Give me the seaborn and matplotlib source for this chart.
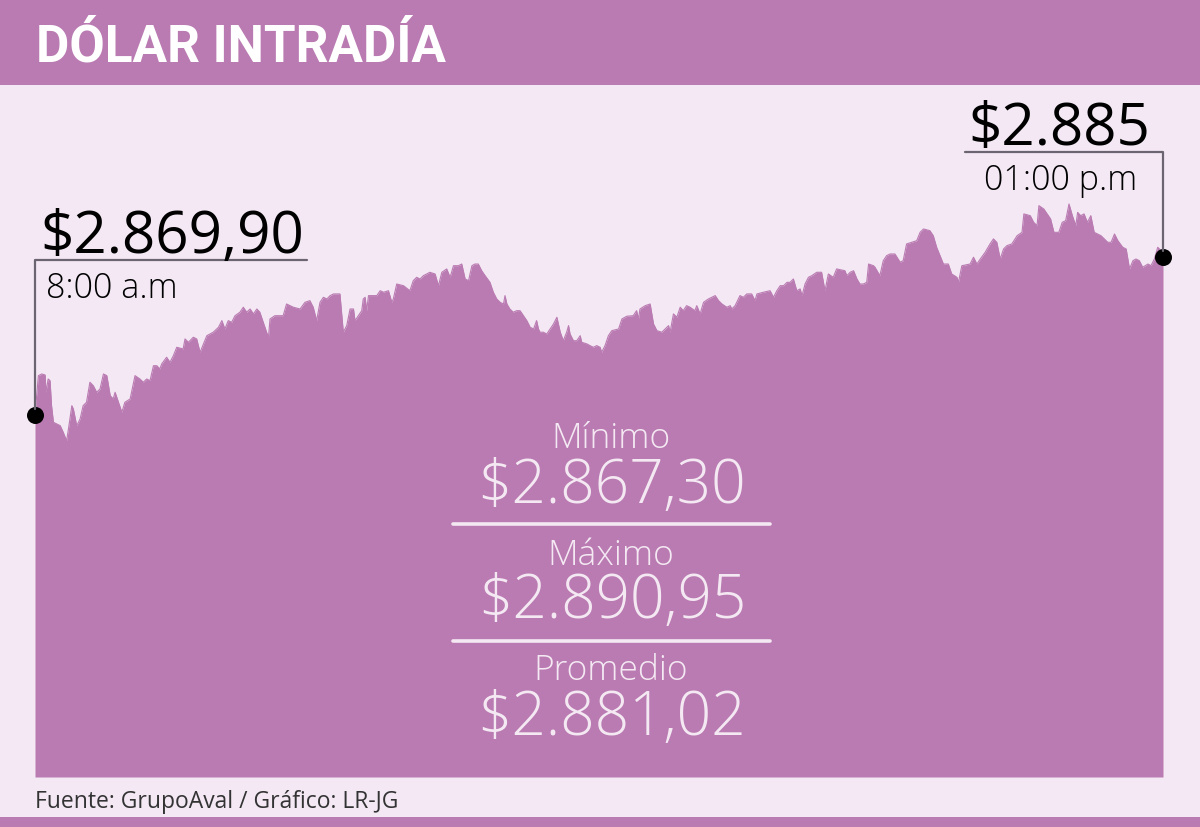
import matplotlib
matplotlib.use("Agg")
import matplotlib.pyplot as plt
from matplotlib.lines import Line2D
from matplotlib.patches import Rectangle
import seaborn as sns
import pandas as pd

# ---------------- data ----------------
minutes = [0.0, 0.9, 1.8, 2.7, 2.9, 3.5, 4.0, 4.4, 4.9, 5.8, 6.7, 7.5, 8.4, 8.9, 9.8, 10.2, 11.1, 12.0,
           12.8, 13.7, 14.6, 15.5, 16.4, 17.3, 18.2, 19.1, 20.0, 20.8, 21.3, 22.2, 23.1, 23.9, 25.3,
           26.6, 27.9, 28.8, 29.7, 30.6, 31.5, 32.4, 33.2, 33.7, 35.0, 35.9, 36.8, 37.7, 39.4, 39.9,
           40.8, 42.1, 43.0, 43.9, 44.8, 45.7, 47.4, 48.8, 49.7, 50.5, 51.4, 52.3, 53.2, 54.5, 55.4,
           56.3, 57.2, 58.1, 59.0, 59.8, 60.7, 61.6, 62.1, 62.5, 63.8, 66.0, 66.9, 68.7, 70.5, 71.8,
           73.1, 74.0, 74.9, 75.8, 76.7, 77.6, 78.5, 79.4, 81.1, 81.6, 82.0, 82.9, 83.8, 84.7, 85.1,
           86.0, 86.9, 87.3, 87.8, 88.2, 88.7, 90.0, 90.9, 91.8, 92.7, 94.0, 94.9, 95.3, 96.2, 98.0,
           99.7, 100.6, 101.5, 102.4, 103.3, 104.2, 105.0, 106.4, 107.3, 108.2, 109.5, 110.4, 111.3,
           112.6, 113.5, 114.4, 115.3, 116.2, 117.0, 117.9, 118.8, 119.7, 121.0, 121.9, 122.8, 123.7,
           124.6, 125.0, 125.5, 126.3, 127.2, 128.1, 129.0, 129.9, 130.8, 131.7, 132.6, 133.4, 133.9,
           134.3, 135.2, 136.1, 137.0, 137.9, 138.8, 139.7, 140.5, 141.4, 141.9, 142.3, 143.2, 144.1,
           145.0, 145.4, 146.8, 147.6, 148.5, 149.4, 150.3, 150.7, 151.6, 152.5, 153.4, 155.2, 156.1,
           157.4, 159.1, 160.0, 160.5, 160.9, 162.3, 163.6, 164.5, 165.4, 166.7, 167.6, 168.5, 168.9,
           169.8, 170.7, 171.6, 172.4, 173.3, 174.2, 175.5, 176.0, 176.9, 177.8, 179.1, 180.9, 181.8,
           182.7, 184.0, 184.9, 185.3, 186.2, 187.5, 188.4, 189.3, 190.6, 191.5, 192.0, 193.7, 195.5,
           196.4, 197.3, 198.2, 199.1, 200.0, 200.8, 201.7, 202.6, 203.5, 204.0, 204.8, 205.7, 206.6,
           207.9, 209.2, 210.1, 211.0, 212.3, 213.2, 215.4, 215.9, 216.8, 217.7, 218.6, 219.4, 220.3,
           221.2, 221.7, 223.0, 223.4, 224.7, 225.6, 226.5, 227.4, 228.7, 230.1, 230.9, 231.8, 233.2,
           234.5, 235.4, 236.3, 238.0, 238.9, 239.8, 241.6, 242.9, 243.8, 245.2, 245.6, 246.5, 248.7,
           249.6, 250.5, 251.4, 252.7, 254.0, 254.9, 255.8, 256.7, 257.6, 258.5, 259.8, 261.2, 262.5,
           263.0, 264.7, 265.6, 266.5, 267.0, 268.3, 269.2, 270.1, 271.0, 272.3, 273.2, 274.1, 275.0,
           275.9, 276.8, 277.3, 278.1, 279.0, 279.9, 280.8, 281.7, 283.5, 285.3, 286.2, 287.1, 288.0,
           289.3, 290.2, 291.1, 292.0, 292.8, 293.7, 294.6, 296.0, 296.8, 297.7, 298.6, 299.5, 300.0]

prices = [2869.90, 2873.66, 2873.82, 2873.72, 2872.07, 2873.34, 2873.18, 2870.79, 2869.20, 2869.04,
          2868.88, 2868.25, 2867.44, 2868.56, 2870.79, 2870.47, 2868.88, 2869.52, 2870.79, 2871.11,
          2873.03, 2872.70, 2872.07, 2872.39, 2873.82, 2873.66, 2871.75, 2871.43, 2872.07, 2871.11,
          2870.16, 2871.11, 2871.43, 2873.66, 2873.34, 2873.03, 2873.34, 2873.18, 2874.61, 2874.61,
          2874.30, 2874.78, 2875.42, 2874.94, 2875.57, 2876.37, 2876.21, 2877.17, 2876.85, 2877.33,
          2877.17, 2875.89, 2876.69, 2877.48, 2877.81, 2878.28, 2878.92, 2878.12, 2878.92, 2878.76,
          2879.39, 2879.72, 2880.20, 2879.72, 2880.03, 2879.56, 2880.03, 2879.72, 2878.76, 2877.81,
          2877.33, 2879.08, 2879.39, 2879.39, 2880.51, 2880.20, 2880.03, 2880.67, 2880.83, 2880.20,
          2878.92, 2880.67, 2881.15, 2880.99, 2881.31, 2881.47, 2881.47, 2879.39, 2877.81, 2878.44,
          2880.03, 2880.03, 2878.92, 2879.39, 2879.87, 2880.99, 2881.15, 2879.87, 2881.31, 2881.31,
          2881.31, 2881.78, 2881.63, 2881.78, 2880.67, 2880.99, 2882.42, 2882.26, 2881.78, 2882.74,
          2883.06, 2882.90, 2883.22, 2883.38, 2883.54, 2883.38, 2882.26, 2883.54, 2883.86, 2883.06,
          2884.17, 2884.17, 2884.33, 2882.90, 2882.74, 2884.17, 2884.33, 2884.33, 2883.69, 2883.22,
          2882.58, 2881.63, 2880.99, 2880.67, 2880.51, 2881.31, 2880.51, 2880.03, 2879.72, 2879.87,
          2879.87, 2879.39, 2878.92, 2878.28, 2878.12, 2878.92, 2878.12, 2877.81, 2877.81, 2877.64,
          2878.12, 2878.60, 2879.24, 2877.81, 2877.00, 2877.81, 2878.44, 2877.64, 2877.00, 2877.00,
          2877.48, 2876.85, 2876.69, 2876.53, 2876.37, 2876.53, 2876.37, 2875.89, 2876.53, 2877.48,
          2877.96, 2878.12, 2879.08, 2879.34, 2879.39, 2879.87, 2879.08, 2880.03, 2880.35, 2880.51,
          2878.60, 2877.96, 2877.81, 2878.12, 2878.44, 2877.81, 2879.56, 2879.24, 2880.20, 2879.87,
          2880.35, 2880.20, 2879.87, 2880.35, 2879.56, 2880.67, 2880.99, 2881.31, 2880.83, 2880.51,
          2880.20, 2880.35, 2880.03, 2880.35, 2881.31, 2881.15, 2881.47, 2881.47, 2880.83, 2881.47,
          2881.63, 2881.78, 2881.15, 2881.78, 2882.26, 2882.26, 2882.58, 2882.58, 2882.90, 2881.78,
          2881.95, 2881.31, 2882.42, 2883.06, 2883.22, 2883.54, 2883.54, 2881.78, 2883.38, 2883.06,
          2883.86, 2883.69, 2883.22, 2883.54, 2883.69, 2882.90, 2882.42, 2882.42, 2882.58, 2884.33,
          2884.17, 2884.02, 2883.22, 2884.65, 2885.13, 2885.29, 2885.29, 2884.50, 2884.65, 2886.25,
          2886.41, 2886.56, 2887.36, 2887.68, 2887.52, 2887.04, 2885.93, 2884.33, 2884.33, 2883.38,
          2883.06, 2882.58, 2884.17, 2884.33, 2884.98, 2884.33, 2884.81, 2885.45, 2886.25, 2886.73,
          2886.41, 2884.81, 2885.77, 2886.09, 2886.25, 2887.04, 2887.36, 2889.12, 2888.95, 2888.32,
          2888.00, 2889.91, 2889.59, 2889.12, 2888.64, 2887.36, 2887.36, 2888.32, 2888.47, 2890.07,
          2888.95, 2888.00, 2889.27, 2888.95, 2889.12, 2888.32, 2888.95, 2887.36, 2887.04, 2886.41,
          2886.41, 2887.20, 2886.56, 2885.93, 2885.77, 2883.86, 2884.65, 2884.81, 2884.65, 2884.02,
          2884.33, 2884.17, 2884.81, 2885.93, 2885.61, 2885.00]

title = "DÓLAR INTRADÍA"
start_label, start_time = "$2.869,90", "8:00 a.m"
end_label, end_time = "$2.885", "01:00 p.m"
stat_names = ["Mínimo", "Máximo", "Promedio"]
stat_values = ["$2.867,30", "$2.890,95", "$2.881,02"]
source = "Fuente: GrupoAval / Gráfico: LR-JG"

# ---------------- style ----------------
PURPLE = "#BA7BB2"
BG = "#F3E8F4"
STAT = "#F4E9F3"
GREY = "#6B6571"
W, H = 1200, 828

sns.set_theme(style="white")
plt.rcParams["font.family"] = ["Open Sans", "DejaVu Sans"]

fig = plt.figure(figsize=(W / 100, H / 100), dpi=100, facecolor=BG)


def fx(x):
    return x / W


def fy(y):
    return 1 - y / H


# header band and bottom strip
fig.patches.append(Rectangle((0, fy(86)), 1, 86 / H, transform=fig.transFigure,
                             facecolor=PURPLE, edgecolor="none", zorder=0))
fig.patches.append(Rectangle((0, 0), 1, 10 / H, transform=fig.transFigure,
                             facecolor=PURPLE, edgecolor="none", zorder=0))

# annotation lines (drawn below the axes so the dots sit on top)
def pline(xs, ys, z=0.5, **kw):
    fig.add_artist(Line2D([fx(v) for v in xs], [fy(v) for v in ys],
                          transform=fig.transFigure, zorder=z, **kw))

pline([307, 35, 35], [261, 261, 410], color=GREY, lw=1.6)
pline([965, 1163, 1163], [153, 153, 252], color=GREY, lw=1.6)

# area chart
ax = fig.add_axes([fx(35), fy(778), fx(1163) - fx(35), (778 - 86) / H])
ax.set_facecolor("none")
df = pd.DataFrame({"minuto": minutes, "precio": prices})
ymin = 2835.29
sns.lineplot(data=df, x="minuto", y="precio", ax=ax, color=PURPLE, linewidth=0.8)
ax.fill_between(df["minuto"], df["precio"], ymin, color=PURPLE, linewidth=0)
ax.set_xlim(0, 300)
ax.set_ylim(ymin, ymin + 66.25 * (778 - 86) / 693)
ax.axis("off")
ax.scatter([minutes[0], minutes[-1]], [prices[0], prices[-1]], s=150, color="black",
           linewidths=0, zorder=10, clip_on=False)

# title
fig.text(fx(36), fy(62), title, family=["Roboto", "DejaVu Sans"],
         fontweight="bold", fontsize=37, color="white", va="baseline", ha="left")

# start / end labels
fig.text(fx(40), fy(253), start_label, fontsize=42, color="black", va="baseline", ha="left")
fig.text(fx(46), fy(298), start_time, fontsize=24.5, fontweight="light", color="black",
         va="baseline", ha="left")
fig.text(fx(968), fy(145), end_label, fontsize=42, color="black", va="baseline", ha="left")
fig.text(fx(984), fy(190), end_time, fontsize=24.5, fontweight="light", color="black",
         va="baseline", ha="left")

# stats block
name_base = [448, 565, 680]
value_base = [503, 618, 735]
for nm, val, nb, vb in zip(stat_names, stat_values, name_base, value_base):
    fig.text(fx(611), fy(nb), nm, fontsize=25.5, color=STAT, fontweight="light",
             va="baseline", ha="center")
    fig.text(fx(612), fy(vb), val, fontsize=43.5, color=STAT, fontweight="light",
             va="baseline", ha="center")
for yl in [525, 642]:
    pline([453, 770], [yl, yl], z=5, color=STAT, lw=2.6)

# source
fig.text(fx(35), fy(808), source, fontsize=16.5, color="#333333", va="baseline", ha="left")

fig.savefig("out.png", dpi=100, facecolor=BG)
